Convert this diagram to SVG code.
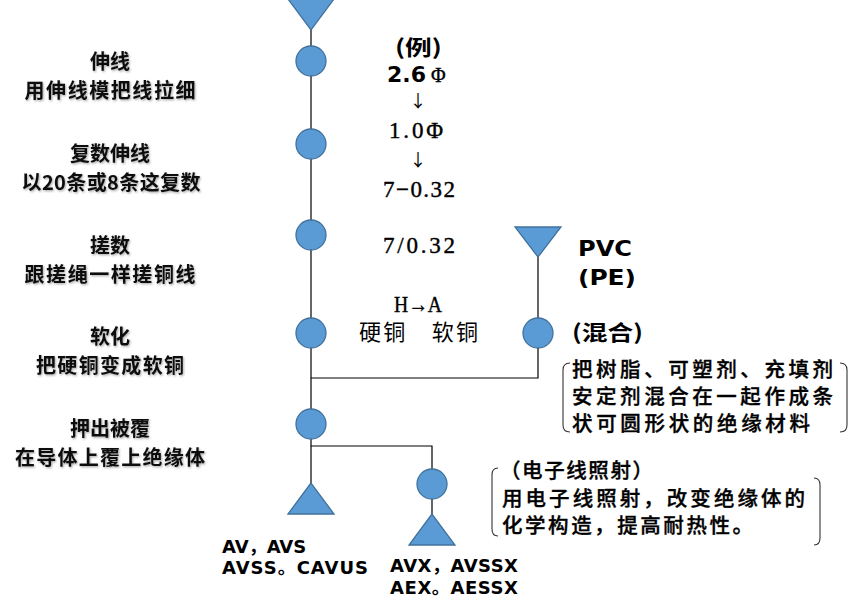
<svg xmlns="http://www.w3.org/2000/svg" width="856" height="603" viewBox="0 0 856 603">
<style>
.node{fill:#5B9BD5;stroke:#41719C;stroke-width:1.3}
.conn{fill:none;stroke:#000;stroke-width:1.2}
.brk{fill:none;stroke:#333;stroke-width:1.1}
.lbl{font-family:"Noto Sans CJK SC","Noto Sans",sans-serif;font-size:20px;font-weight:700;fill:#111;text-anchor:middle}
.ser{font-family:"Liberation Serif","Noto Sans CJK SC",serif;font-size:23px;fill:#000;stroke:#000;stroke-width:0.4}
.cjk{font-family:"Noto Sans CJK SC",sans-serif;font-size:20.5px;font-weight:500;fill:#000}
.note{stroke:#000;stroke-width:0.35}
.bold{font-family:"DejaVu Sans","Noto Sans CJK SC",sans-serif;font-weight:700;fill:#000}
.shadow{filter:url(#sh)}
</style>
<defs>
<filter id="sh" x="-10%" y="-30%" width="120%" height="160%">
<feDropShadow dx="1" dy="1.2" stdDeviation="0.8" flood-color="#000" flood-opacity="0.35"/>
</filter>
</defs>

<g id="connectors">
<path class="conn" d="M311 28 V484"/>
<path class="conn" d="M538 256 V378 H311"/>
<path class="conn" d="M311 446 H432 V514"/>
</g>

<g id="input-conductor"><polygon class="node" points="288,-1 334,-1 311,30"/></g>
<g id="step-drawing"><circle class="node" cx="311" cy="61" r="15"/></g>
<g id="step-multi-drawing"><circle class="node" cx="311" cy="144" r="15"/></g>
<g id="step-stranding"><circle class="node" cx="311" cy="235" r="15"/></g>
<g id="step-annealing"><circle class="node" cx="311" cy="333" r="15"/></g>
<g id="step-extrusion"><circle class="node" cx="311" cy="424" r="15"/></g>
<g id="input-pvc"><polygon class="node" points="515,227 561,227 538,257"/></g>
<g id="step-mixing"><circle class="node" cx="538" cy="333" r="15"/></g>
<g id="output-av"><polygon class="node" points="311,483 288,514 334,514"/></g>
<g id="step-irradiation"><circle class="node" cx="432" cy="484" r="15"/></g>
<g id="output-avx"><polygon class="node" points="432,514 409,545 455,545"/></g>

<g id="left-labels" class="shadow">
<text class="lbl" x="110" y="69">伸线</text>
<text class="lbl" x="110" y="98" textLength="171" lengthAdjust="spacing">用伸线模把线拉细</text>
<text class="lbl" x="110" y="161">复数伸线</text>
<text class="lbl" x="111" y="190" textLength="179" lengthAdjust="spacing">以20条或8条这复数</text>
<text class="lbl" x="110" y="253">搓数</text>
<text class="lbl" x="110" y="282" textLength="171" lengthAdjust="spacing">跟搓绳一样搓铜线</text>
<text class="lbl" x="110" y="344">软化</text>
<text class="lbl" x="110" y="373" textLength="148" lengthAdjust="spacing">把硬铜变成软铜</text>
<text class="lbl" x="110" y="436">押出被覆</text>
<text class="lbl" x="110" y="465" textLength="190" lengthAdjust="spacing">在导体上覆上绝缘体</text>
</g>

<g id="example-column">
<text class="cjk" x="395" y="55" style="font-weight:700;font-size:21px" textLength="47" lengthAdjust="spacingAndGlyphs">(例)</text>
<text class="bold" x="387" y="82" style="font-size:22px">2.6</text>
<text class="ser" x="431" y="82" style="font-size:20px">Φ</text>
<text class="cjk" x="418" y="107" style="font-size:17px;font-weight:400" text-anchor="middle">↓</text>
<text class="ser" x="389" y="138" textLength="54" lengthAdjust="spacing">1.0Φ</text>
<text class="cjk" x="418" y="166" style="font-size:17px;font-weight:400" text-anchor="middle">↓</text>
<text class="ser" x="383" y="197" textLength="72" lengthAdjust="spacing">7−0.32</text>
<text class="ser" x="383" y="253" textLength="72" lengthAdjust="spacing">7/0.32</text>
<text class="ser" x="394" y="312" textLength="48" lengthAdjust="spacingAndGlyphs">H→A</text>
<text class="cjk" x="359" y="340" style="font-size:22px;font-weight:400" textLength="119" lengthAdjust="spacing">硬铜　软铜</text>
</g>

<g id="pvc-labels">
<text class="bold" x="578" y="256" style="font-size:22px" textLength="54" lengthAdjust="spacingAndGlyphs">PVC</text>
<text class="bold" x="578" y="285" style="font-size:22px" textLength="58" lengthAdjust="spacingAndGlyphs">(PE)</text>
<text class="cjk" x="572" y="340" style="font-weight:700;font-size:21px" textLength="71" lengthAdjust="spacingAndGlyphs">(混合)</text>
</g>

<g id="mixing-note">
<path class="brk" d="M570 363 Q563 363 563 370 V425 Q563 432 570 432"/>
<path class="brk" d="M840 363 Q847 363 847 370 V425 Q847 432 840 432"/>
<text class="cjk note" x="572" y="377" textLength="261" lengthAdjust="spacing">把树脂、可塑剂、充填剂</text>
<text class="cjk note" x="572" y="404" textLength="261" lengthAdjust="spacing">安定剂混合在一起作成条</text>
<text class="cjk note" x="572" y="431" textLength="238" lengthAdjust="spacing">状可圆形状的绝缘材料</text>
</g>

<g id="irradiation-note">
<path class="brk" d="M498 468 Q492 468 492 475 V529 Q492 536 498 536"/>
<path class="brk" d="M814 478 Q820 478 820 485 V538 Q820 545 814 545"/>
<text class="cjk note" x="500" y="478" textLength="153" lengthAdjust="spacing">（电子线照射）</text>
<text class="cjk note" x="502" y="506" textLength="303" lengthAdjust="spacing">用电子线照射，改变绝缘体的</text>
<text class="cjk note" x="502" y="533" textLength="251" lengthAdjust="spacing">化学构造，提高耐热性。</text>
</g>

<g id="product-labels">
<text class="bold" x="222" y="553" style="font-size:18px">AV，AVS</text>
<text class="bold" x="222" y="574" style="font-size:18px" textLength="146" lengthAdjust="spacing">AVSS。CAVUS</text>
<text class="bold" x="390" y="572" style="font-size:18px" textLength="128" lengthAdjust="spacing">AVX，AVSSX</text>
<text class="bold" x="390" y="594" style="font-size:18px" textLength="128" lengthAdjust="spacing">AEX。AESSX</text>
</g>
</svg>
